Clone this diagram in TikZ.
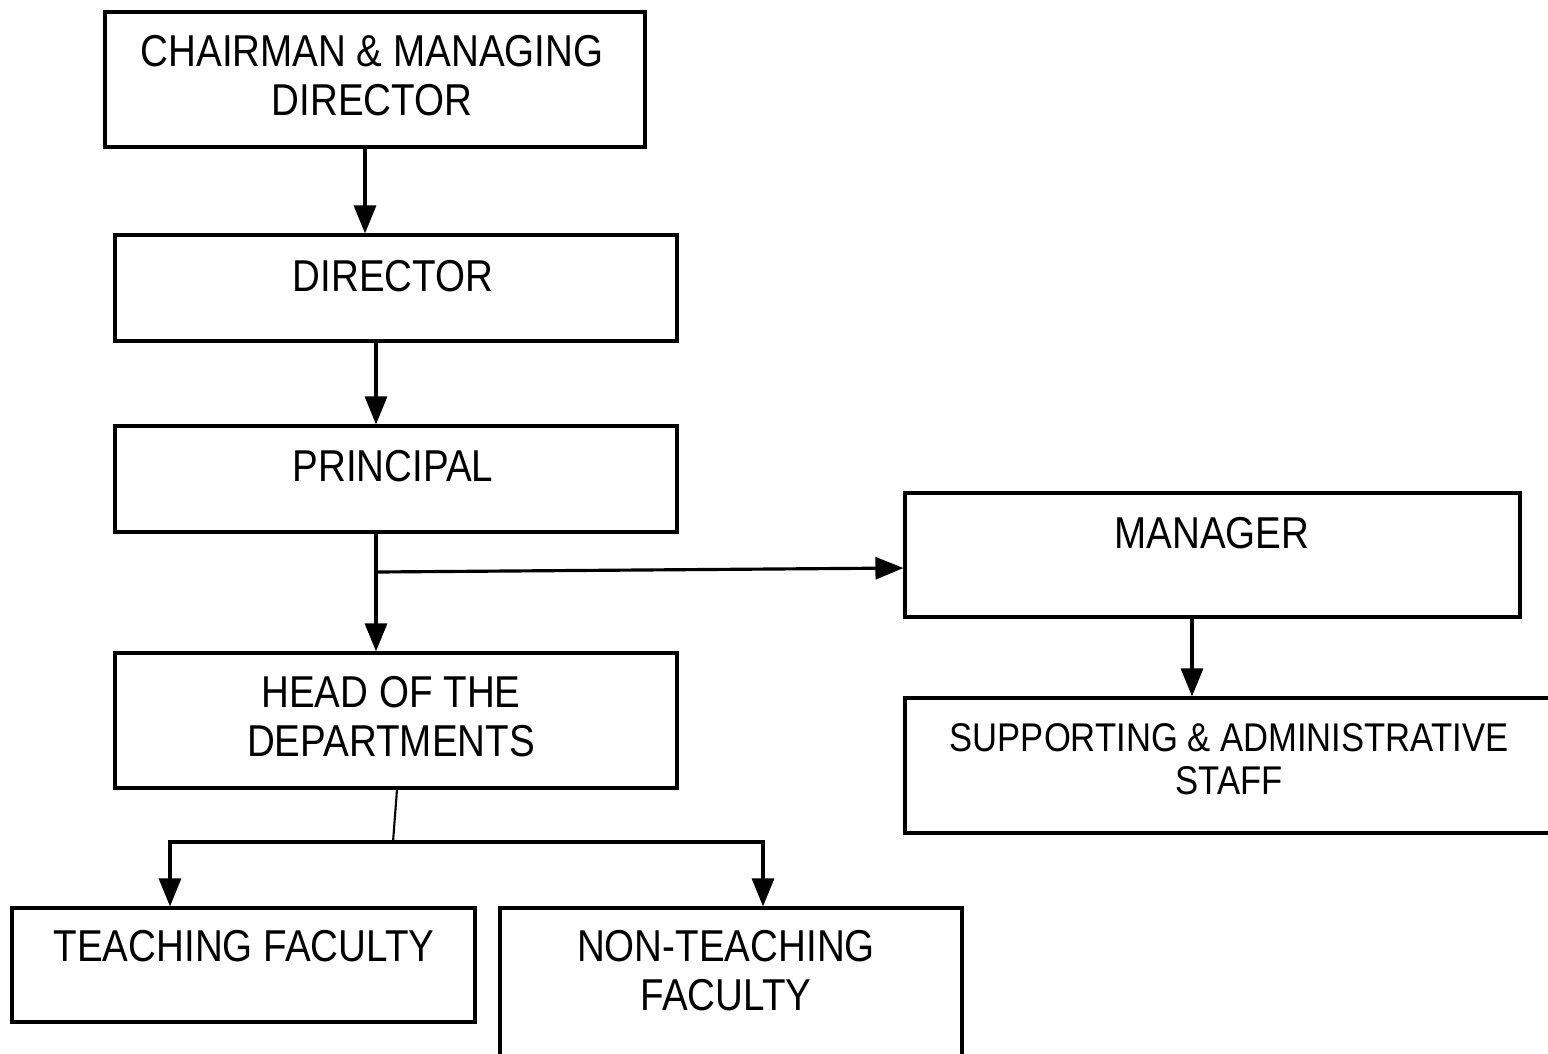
\documentclass[tikz,border=0pt]{standalone}
\usepackage{fontspec}
\setmainfont{Liberation Sans}[FakeStretch=0.864]
\usepackage{tikz}
\usetikzlibrary{arrows.meta,positioning}

\begin{document}
\begin{tikzpicture}
	\tikzstyle{box}=[draw=black,line width=0.9pt,inner sep=0pt]
	\tikzstyle{txt}=[anchor=north,inner sep=0pt,align=center,font=\fontsize{12.7}{13.8}\selectfont]
	\tikzstyle{arr}=[line width=0.9pt,-{Triangle[length=0.28cm,width=0.22cm]}]
	\useasboundingbox (0,0) rectangle (15.48,-10.53);
	% boxes
	\node[box,minimum width=5.40cm,minimum height=1.35cm] (cmd) at (3.75,-0.795) {};
	\node[box,minimum width=5.62cm,minimum height=1.06cm] (dir) at (3.96,-2.88) {};
	\node[box,minimum width=5.62cm,minimum height=1.06cm] (prin) at (3.96,-4.79) {};
	\node[box,minimum width=6.15cm,minimum height=1.24cm] (mgr) at (12.125,-5.55) {};
	\node[box,minimum width=5.62cm,minimum height=1.35cm] (hod) at (3.96,-7.205) {};
	\node[box,minimum width=6.55cm,minimum height=1.35cm] (sup) at (12.325,-7.655) {};
	\node[box,minimum width=4.63cm,minimum height=1.14cm] (tf) at (2.435,-9.65) {};
	\node[box,minimum width=4.62cm,minimum height=1.52cm] (ntf) at (7.31,-9.84) {};
	% texts
	\node[txt] (cmdtxt) at (3.72,-0.35) {CHAIRMAN \& MANAGING\\DIRECTOR};
	\node[txt] (dirtxt) at (3.93,-2.60) {DIRECTOR};
	\node[txt] (printxt) at (3.93,-4.50) {PRINCIPAL};
	\node[txt] (mgrtxt) at (12.12,-5.17) {MANAGER};
	\node[txt] (hodtxt) at (3.91,-6.76) {HEAD OF THE\\DEPARTMENTS};
	\node[txt,font=\fontsize{11.4}{12.3}\selectfont] (suptxt) at (12.29,-7.23) {SUPPORTING \& ADMINISTRATIVE\\STAFF};
	\node[txt] (tftxt) at (2.44,-9.30) {TEACHING FACULTY};
	\node[txt] (ntftxt) at (7.26,-9.30) {NON-TEACHING\\FACULTY};
	% connectors
	\coordinate (br) at (3.76,-5.72);
	\coordinate (split) at (3.93,-8.42);
	\draw[arr] ([xshift=-0.1cm]cmd.south) -- ([xshift=-0.1cm]cmd.south |- dir.north);
	\draw[arr] ([xshift=-0.2cm]dir.south) -- ([xshift=-0.2cm]dir.south |- prin.north);
	\draw[arr] ([xshift=-0.2cm]prin.south) -- ([xshift=-0.2cm]prin.south |- hod.north);
	\draw[arr] (br) -- ([yshift=-0.13cm]mgr.west);
	\draw[arr] ([xshift=-0.205cm]mgr.south) -- ([xshift=-0.205cm]mgr.south |- sup.north);
	\draw[line width=0.6pt] ([xshift=0.01cm]hod.south) -- (split);
	\draw[arr] (split) -| ([xshift=-0.735cm]tf.north);
	\draw[arr] (split) -| ([xshift=0.32cm]ntf.north);
\end{tikzpicture}
\end{document}
